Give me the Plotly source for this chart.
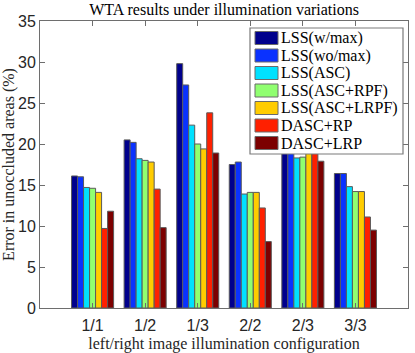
import plotly.graph_objects as go

# illumination configurations (left/right)
configs = ['1/1', '1/2', '1/3', '2/2', '2/3', '3/3']

# error in unoccluded areas (%) per method
lss_wmax = [16.1, 20.5, 29.8, 17.5, 19.4, 16.4]
lss_womax = [16.0, 20.2, 27.2, 17.8, 19.6, 16.4]
lss_asc = [14.7, 18.2, 22.3, 13.9, 18.3, 14.8]
lss_asc_rpf = [14.6, 18.0, 20.0, 14.1, 18.4, 14.2]
lss_asc_lrpf = [14.1, 17.8, 19.4, 14.1, 19.0, 14.2]
dasc_rp = [9.7, 14.5, 23.8, 12.2, 19.2, 11.1]
dasc_lrp = [11.8, 9.8, 18.9, 8.1, 17.9, 9.5]

names = ['LSS(w/max)', 'LSS(wo/max)', 'LSS(ASC)', 'LSS(ASC+RPF)',
         'LSS(ASC+LRPF)', 'DASC+RP', 'DASC+LRP']
series = [lss_wmax, lss_womax, lss_asc, lss_asc_rpf, lss_asc_lrpf, dasc_rp, dasc_lrp]
colors = ['#00008c', '#0a32ff', '#00e1ff', '#90ff70', '#ffcc00', '#ff2000', '#7c0000']

fig = go.Figure()
for name, vals, col in zip(names, series, colors):
    fig.add_trace(go.Bar(x=configs, y=vals, name=name, marker_color=col,
                         marker_line=dict(color='#5a5a5a', width=1)))

# plot area in pixels (used to place the hand-made legend box)
W, H = 415, 353
L, R, T, B = 40, 7, 21, 45


def px(x):
    return (x - L) / (W - L - R)


def py(y):
    return (H - B - y) / (H - T - B)


shapes = [dict(type='rect', xref='paper', yref='paper',
               x0=px(250), x1=px(403), y0=py(154), y1=py(28),
               fillcolor='white', line=dict(color='#7a7a7a', width=1.2))]
annotations = []
for i, (name, col) in enumerate(zip(names, colors)):
    cy = 38 + i * 17.5
    shapes.append(dict(type='rect', xref='paper', yref='paper',
                       x0=px(255), x1=px(278), y0=py(cy + 6.5), y1=py(cy - 6.5),
                       fillcolor=col, line=dict(color='#6a6a6a', width=1)))
    annotations.append(dict(xref='paper', yref='paper', x=px(279), y=py(cy),
                            text=name, showarrow=False, xanchor='left', yanchor='middle',
                            font=dict(family='Liberation Serif', size=16, color='black')))

axis_style = dict(showline=True, linecolor='#6e6e6e', linewidth=1, mirror='ticks',
                  ticks='inside', ticklen=5, tickcolor='#6e6e6e', showgrid=False,
                  zeroline=False, automargin=False,
                  tickfont=dict(family='Liberation Sans', size=16, color='#262626'))

fig.update_layout(
    width=W, height=H,
    margin=dict(l=L, r=R, t=T, b=B),
    title=dict(text='WTA results under illumination variations', x=0.54, xanchor='center',
               y=0.99, yanchor='top',
               font=dict(family='Liberation Serif', size=16, color='black')),
    barmode='group', bargap=0.2, bargroupgap=0,
    showlegend=False,
    plot_bgcolor='white', paper_bgcolor='white',
    shapes=shapes, annotations=annotations,
)
fig.update_xaxes(range=[-1, 6], title=dict(text='left/right image illumination configuration',
                 font=dict(family='Liberation Serif', size=16, color='#262626')),
                 ticklabelstandoff=3, **axis_style)
fig.update_yaxes(range=[0, 35], dtick=5, title=dict(text='Error in unoccluded areas (%)',
                 font=dict(family='Liberation Serif', size=16, color='#262626')),
                 **axis_style)

# drop the default page margin so the figure sits at the window's top-left corner
fig.write_html('out.html', config={'displayModeBar': False},
               post_script="document.body.style.margin='0';")
